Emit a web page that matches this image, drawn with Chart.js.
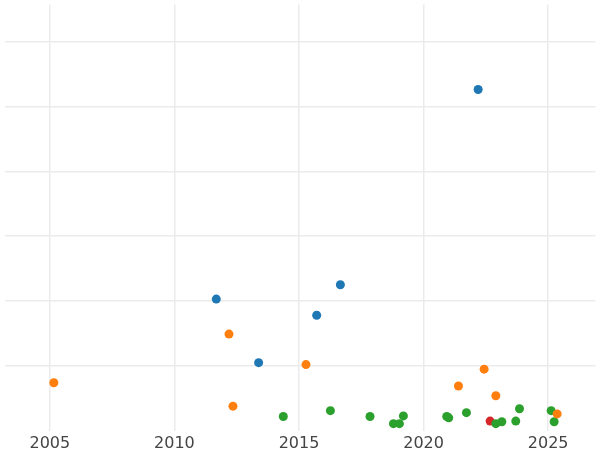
<!DOCTYPE html>
<html>
<head>
<script src="https://cdn.jsdelivr.net/npm/chart.js@4"></script>
<style>
body{margin:0;background:#fff}
#wrap{width:600px;height:450px}
</style>
</head>
<body>
<div id="wrap"><canvas id="c"></canvas></div>
<script>
// values (y in arbitrary units, no labels shown)
const blueX = [2011.68, 2013.38, 2015.71, 2016.66, 2022.19];
const blueY = [2.03, 1.05, 1.78, 2.25, 5.26];
const orangeX = [2005.16, 2012.19, 2012.35, 2015.28, 2021.4, 2022.43, 2022.9, 2025.36];
const orangeY = [0.74, 1.49, 0.38, 1.02, 0.69, 0.95, 0.54, 0.26];
const greenX = [2014.37, 2016.26, 2017.85, 2018.79, 2019.03, 2019.19, 2020.93, 2021.01, 2021.72, 2022.9, 2023.14, 2023.7, 2023.85, 2025.12, 2025.24];
const greenY = [0.22, 0.31, 0.22, 0.11, 0.11, 0.23, 0.22, 0.2, 0.28, 0.11, 0.14, 0.15, 0.34, 0.31, 0.14];
const redX = [2022.67];
const redY = [0.15];
const xTicks = [2005, 2010, 2015, 2020, 2025];

function pts(xs, ys){
  return xs.map((x,i) => ({x:x, y:ys[i]}));
}

new Chart(document.getElementById("c"), {
  type:'scatter',
  data:{
    datasets:[
      {data:pts(blueX,blueY), backgroundColor:"#1f77b4"},
      {data:pts(orangeX,orangeY), backgroundColor:"#ff7f0e"},
      {data:pts(greenX,greenY), backgroundColor:"#2ca02c"},
      {data:pts(redX,redY), backgroundColor:"#d62728"}
    ]
  },
  options:{
    responsive:true,
    maintainAspectRatio:false,
    animation:false,
    layout:{padding:{top:-5, left:-5, right:-5, bottom:-6}},
    elements:{point:{radius:4.5, borderWidth:0}},
    plugins:{legend:{display:false}, tooltip:{enabled:false}},
    scales:{
      x:{
        type:'linear', min:2003.18, max:2026.9,
        afterBuildTicks: s => { s.ticks = xTicks.map(v => ({value:v})); },
        grid:{color:"#ebebeb", lineWidth:1.5, drawTicks:false},
        border:{display:false},
        ticks:{color:"#444", font:{size:16, family:"DejaVu Sans"}, padding:3, callback:v => String(v)}
      },
      y:{
        min:0, max:6.57,
        afterBuildTicks: s => { s.ticks = [1,2,3,4,5,6].map(v => ({value:v})); },
        grid:{color:"#ebebeb", lineWidth:1.5, drawTicks:false},
        border:{display:false},
        ticks:{display:false}
      }
    }
  }
});
</script>
</body>
</html>
